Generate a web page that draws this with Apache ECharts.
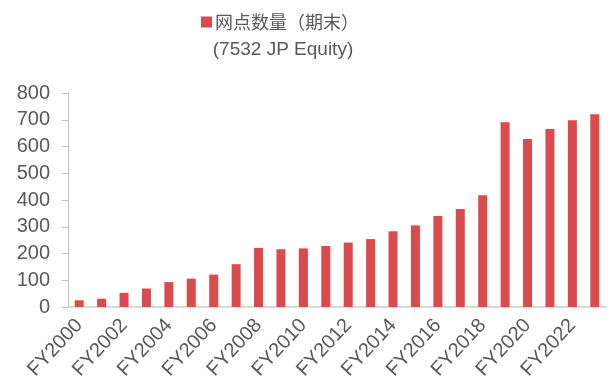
<!DOCTYPE html>
<html><head><meta charset="utf-8">
<script src="https://cdn.jsdelivr.net/npm/echarts@6/dist/echarts.min.js"></script>
<style>html,body{margin:0;padding:0;background:#fff}#c{width:609px;height:387px}</style>
</head><body><div id="c"></div>
<script>
const categories = ['FY2000','FY2001','FY2002','FY2003','FY2004','FY2005','FY2006','FY2007','FY2008','FY2009','FY2010','FY2011','FY2012','FY2013','FY2014','FY2015','FY2016','FY2017','FY2018','FY2019','FY2020','FY2021','FY2022','FY2023'];
const branches = [25,31,53,69,93,106,121,160,221,216,219,228,241,254,283,305,340,366,418,691,628,665,698,721];
const seriesName = '网点数量（期末）';
const subtitle = '(7532 JP Equity)';
const yTicks = {min:0, max:800, interval:100};

const chart = echarts.init(document.getElementById('c'), null, {renderer:'canvas'});
chart.setOption({
  animation:false,
  backgroundColor:'#fff',
  title:{text:subtitle, left:278, textAlign:'center', top:35,
    textStyle:{fontFamily:'Liberation Sans, Arial', fontSize:19, fontWeight:'normal', color:'#595959'}},
  legend:{data:[seriesName], left:196, top:8, itemWidth:11, itemHeight:11, itemGap:4,
    icon:'rect',
    textStyle:{fontFamily:'Noto Sans CJK SC', fontSize:18, color:'#595959', padding:[0,0,0,-2]}},
  grid:{left:68, right:3, top:93, bottom:80, containLabel:false},
  xAxis:{type:'category', data:categories,
    axisLine:{lineStyle:{color:'#d9d9d9', width:2}},
    axisTick:{show:false},
    axisLabel:{interval:1, rotate:47, fontFamily:'Liberation Sans, Arial', fontSize:20, color:'#595959', margin:15}},
  yAxis:{type:'value', min:yTicks.min, max:yTicks.max, interval:yTicks.interval,
    splitLine:{show:false},
    axisLine:{show:true, lineStyle:{color:'#bfbfbf', width:1}},
    axisTick:{show:true, length:6, lineStyle:{color:'#bfbfbf'}},
    axisLabel:{fontFamily:'Liberation Sans, Arial', fontSize:20, color:'#595959', margin:18}},
  series:[{name:seriesName, type:'bar', data:branches, barWidth:9,
    itemStyle:{color:'#d94b4c'}}]
});
</script></body></html>
